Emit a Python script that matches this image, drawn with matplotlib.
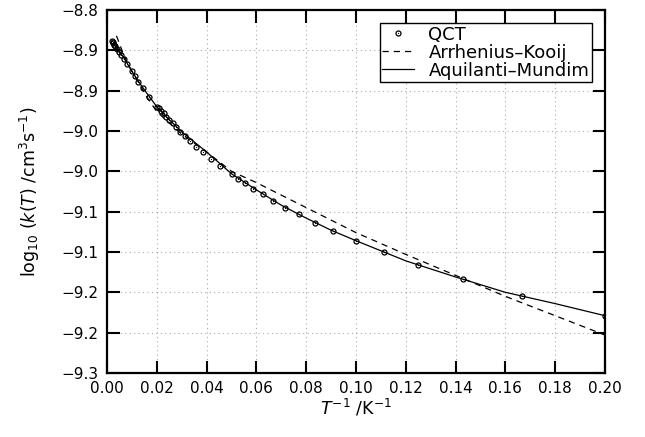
import numpy as np
import matplotlib
matplotlib.use("Agg")
import matplotlib.pyplot as plt
from matplotlib.legend_handler import HandlerTuple

# QCT rate constants, temperatures in K
temps = [5, 6, 7, 8, 9, 10, 11, 12, 13, 14, 15, 16, 17, 18, 19, 20,
         22, 24, 26, 28, 30, 32, 34, 36, 38, 40, 42, 44, 46, 48, 50,
         60, 70, 80, 90, 100, 125, 150, 175, 200, 250, 300, 350, 400, 450, 500]
log_k = [-9.179, -9.155, -9.134, -9.116, -9.100, -9.086, -9.074, -9.064, -9.053, -9.045,
         -9.037, -9.028, -9.022, -9.014, -9.010, -9.003,
         -8.993, -8.985, -8.976, -8.970, -8.962, -8.956, -8.951, -8.945, -8.940,
         -8.936, -8.933, -8.928, -8.925, -8.922, -8.920,
         -8.908, -8.897, -8.889, -8.882, -8.876, -8.867, -8.861, -8.856, -8.852,
         -8.848, -8.845, -8.843, -8.841, -8.840, -8.838]

# Arrhenius-Kooij fit
ak_x = [0.0038, 0.006, 0.008, 0.0125, 0.016, 0.02, 0.03, 0.04, 0.05, 0.06,
        0.08, 0.10, 0.12, 0.14, 0.16, 0.18, 0.20]
ak_y = [-8.832, -8.850, -8.865, -8.889, -8.908, -8.926, -8.954, -8.976, -9.000, -9.014,
        -9.045, -9.076, -9.103, -9.129, -9.155, -9.179, -9.203]

# Aquilanti-Mundim fit
am_x = [0.0035, 0.005, 0.0075, 0.01, 0.0125, 0.015, 0.02, 0.025, 0.03, 0.04, 0.05,
        0.06, 0.07, 0.08, 0.09, 0.10, 0.12, 0.14, 0.16, 0.18, 0.20]
am_y = [-8.842, -8.851, -8.863, -8.876, -8.888, -8.899, -8.920, -8.936, -8.951, -8.976,
        -9.003, -9.023, -9.042, -9.058, -9.073, -9.086, -9.111, -9.131, -9.150, -9.164, -9.179]

xticks = [0.00, 0.02, 0.04, 0.06, 0.08, 0.10, 0.12, 0.14, 0.16, 0.18, 0.20]
yticks = [-8.80, -8.85, -8.90, -8.95, -9.00, -9.05, -9.10, -9.15, -9.20, -9.25]
ytick_labels = ["−8.8", "−8.9", "−8.9", "−9.0", "−9.0", "−9.1", "−9.1", "−9.2", "−9.2", "−9.3"]

plt.rcParams["font.family"] = ["DejaVu Sans"]
plt.rcParams["font.size"] = 11

fig = plt.figure(figsize=(6.45, 4.37), dpi=100)
ax = fig.add_axes([0.1659, 0.1465, 0.7721, 0.8306])

inv_t = 1.0 / np.array(temps, dtype=float)
circ, = ax.plot(inv_t, log_k, "o", ms=3.6, mfc="none", mec="black", mew=0.9)
dot, = ax.plot(inv_t, log_k, "o", ms=0.9, mfc="black", mec="black", mew=0)
ak, = ax.plot(ak_x, ak_y, "--", color="black", lw=0.9, dashes=(5, 4))
am, = ax.plot(am_x, am_y, "-", color="black", lw=0.9)

ax.set_xlim(0, 0.2)
ax.set_ylim(-9.25, -8.80)
ax.set_xticks(xticks)
ax.set_xticklabels(["%.2f" % v for v in xticks])
ax.set_yticks(yticks)
ax.set_yticklabels(ytick_labels)

ax.grid(True, linestyle=(0, (1, 3)), color="#aaaaaa", lw=0.8)
ax.tick_params(direction="in", length=9, width=1.5, top=True, right=True, pad=6)
for s in ax.spines.values():
    s.set_linewidth(1.6)

ax.set_xlabel(r"$T^{-1}$ /K$^{-1}$", fontsize=12.5, labelpad=1)
ax.set_ylabel(r"log$_{10}$ ($k$($T$) /cm$^3$s$^{-1}$)", fontsize=12.5, labelpad=14)

leg = ax.legend([(circ, dot), ak, am], ["QCT", "Arrhenius–Kooij", "Aquilanti–Mundim"],
                handler_map={tuple: HandlerTuple(ndivide=1, pad=0)}, numpoints=1,
                loc="upper right", bbox_to_anchor=(0.974, 0.964), borderaxespad=0,
                fancybox=False, framealpha=1, edgecolor="black", labelspacing=0.0,
                handlelength=1.75, borderpad=0.15, handletextpad=0.8, fontsize=13)
leg.get_frame().set_linewidth(1.0)

fig.savefig("out.png", dpi=100)
